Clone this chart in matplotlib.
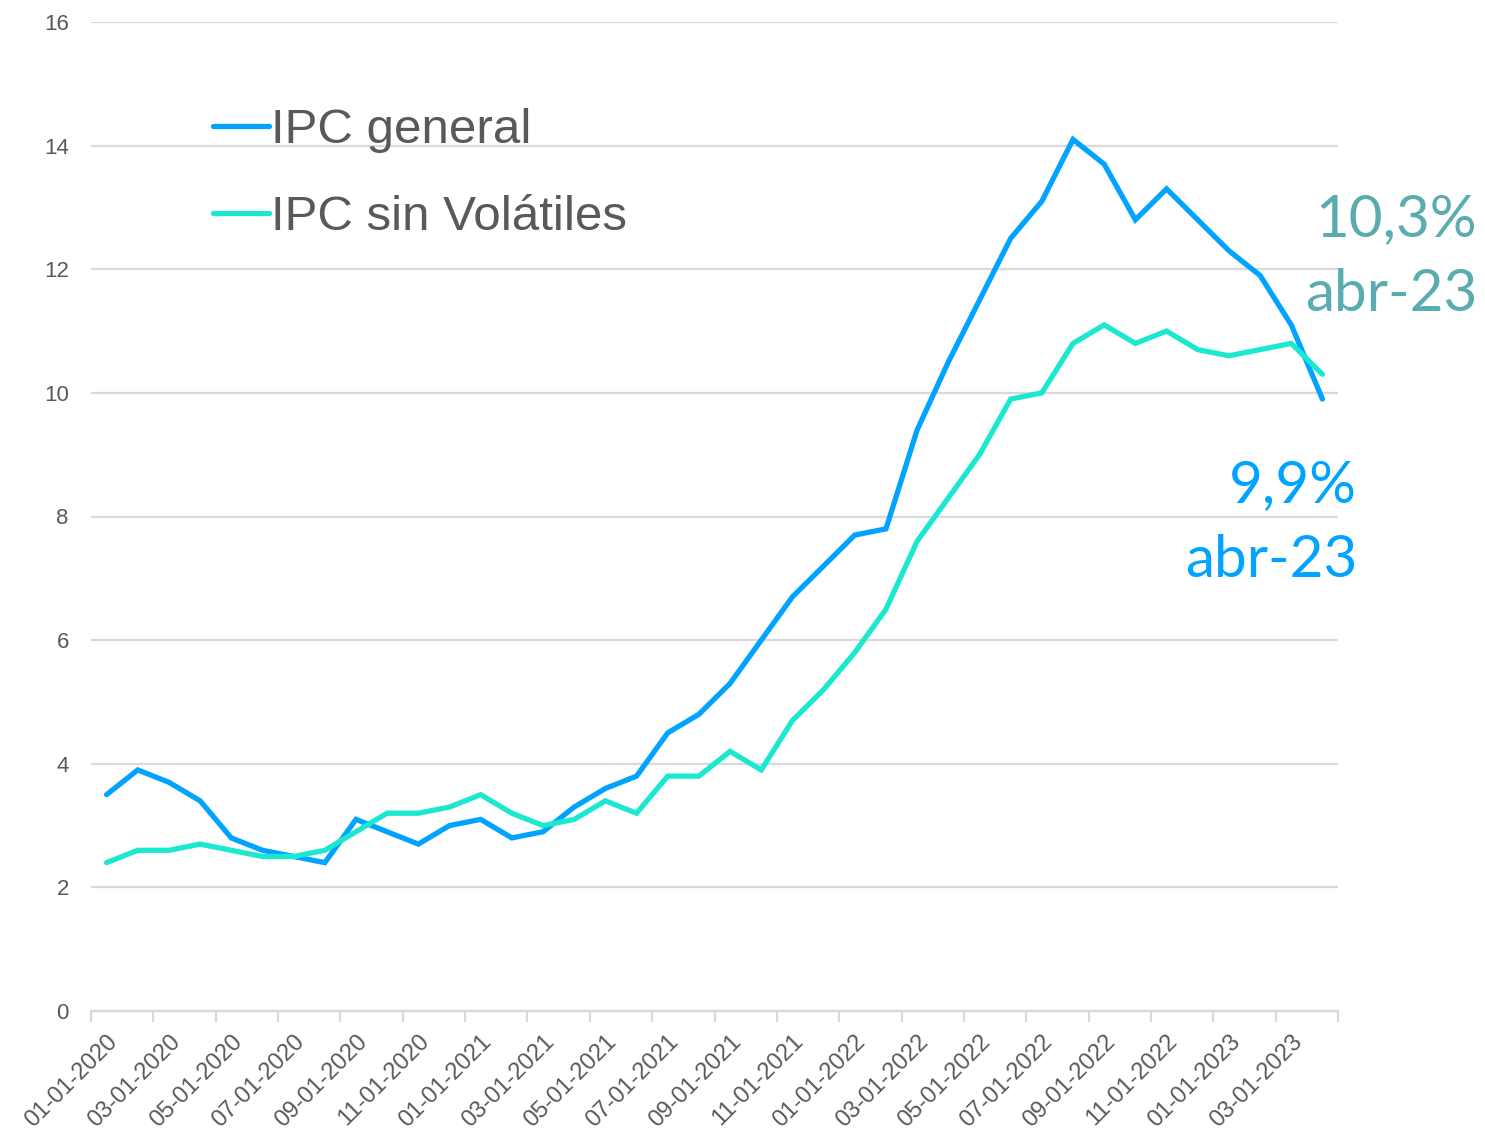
import numpy as np
import matplotlib.pyplot as plt
from matplotlib.lines import Line2D

# monthly data, Jan 2020 .. Apr 2023
months = [f"{m:02d}-01-{y}" for y in (2020, 2021, 2022, 2023) for m in range(1, 13)][:40]

ipc_general = [3.5, 3.9, 3.7, 3.4, 2.8, 2.6, 2.5, 2.4, 3.1, 2.9,
               2.7, 3.0, 3.1, 2.8, 2.9, 3.3, 3.6, 3.8, 4.5, 4.8,
               5.3, 6.0, 6.7, 7.2, 7.7, 7.8, 9.4, 10.5, 11.5, 12.5,
               13.1, 14.1, 13.7, 12.8, 13.3, 12.8, 12.3, 11.9, 11.1, 9.9]
ipc_sin_volatiles = [2.4, 2.6, 2.6, 2.7, 2.6, 2.5, 2.5, 2.6, 2.9, 3.2,
                     3.2, 3.3, 3.5, 3.2, 3.0, 3.1, 3.4, 3.2, 3.8, 3.8,
                     4.2, 3.9, 4.7, 5.2, 5.8, 6.5, 7.6, 8.3, 9.0, 9.9,
                     10.0, 10.8, 11.1, 10.8, 11.0, 10.7, 10.6, 10.7, 10.8, 10.3]

series_names = ["IPC general", "IPC sin Volátiles"]
end_labels = ["9,9%\nabr-23", "10,3%\nabr-23"]

BLUE = "#00A3FF"
TEAL = "#1BE8D0"
GRID = "#D9D9D9"
TXT = "#595959"

plt.rcParams['font.family'] = ['Liberation Sans', 'DejaVu Sans']

fig = plt.figure(figsize=(14.85, 11.31), dpi=100)
ax = fig.add_axes([91 / 1485, 1 - 1011 / 1131, (1338 - 91) / 1485, (1011 - 22) / 1131])

x = np.arange(len(months)) + 0.5
ax.plot(x, ipc_general, color=BLUE, lw=3.8, solid_joinstyle='miter', solid_capstyle='round', zorder=3)
ax.plot(x, ipc_sin_volatiles, color=TEAL, lw=3.8, solid_joinstyle='miter', solid_capstyle='round', zorder=3)

ax.set_xlim(0, len(months))
ax.set_ylim(0, 16)
ax.set_yticks(range(0, 17, 2))
ax.grid(axis='y', color=GRID, lw=1.6)
ax.set_axisbelow(True)
for s in ['top', 'right', 'left']:
    ax.spines[s].set_visible(False)
ax.spines['bottom'].set_color(GRID)
ax.spines['bottom'].set_linewidth(1.6)

ax.tick_params(axis='y', length=0, pad=16, labelsize=16, labelcolor=TXT)

# tick marks at category boundaries, labels on every second category
ax.set_xticks(np.arange(0, len(months) + 1, 2), minor=True)
ax.tick_params(axis='x', which='minor', length=8, width=1.6, color=GRID)
ax.set_xticks(x[::2])
ax.set_xticklabels(months[::2])
ax.tick_params(axis='x', which='major', length=0, pad=14, labelsize=17, labelcolor=TXT)
for lab in ax.get_xticklabels():
    lab.set_rotation(45)
    lab.set_ha('right')
    lab.set_va('top')
    lab.set_rotation_mode('anchor')

# legend drawn inside plot area
handles = [Line2D([], [], color=BLUE, lw=3.8, solid_capstyle='round'),
           Line2D([], [], color=TEAL, lw=3.8, solid_capstyle='round')]
ax.legend(handles, series_names, loc='upper left', bbox_to_anchor=(0.078, 0.938),
          frameon=False, fontsize=35.5, labelcolor=TXT, handlelength=1.13,
          handletextpad=0.05, labelspacing=0.86, borderpad=0)

# end-of-series annotations
ann_font = ['Lato', 'DejaVu Sans']
ax.text(1357, 608, end_labels[0], transform=None, color="#00A3FF", fontsize=42,
        family=ann_font, ha='right', va='center', linespacing=1.52)
ax.text(1477, 874, end_labels[1], transform=None, color="#5AACAF", fontsize=42,
        family=ann_font, ha='right', va='center', linespacing=1.52)

fig.savefig("out.png", dpi=100)
